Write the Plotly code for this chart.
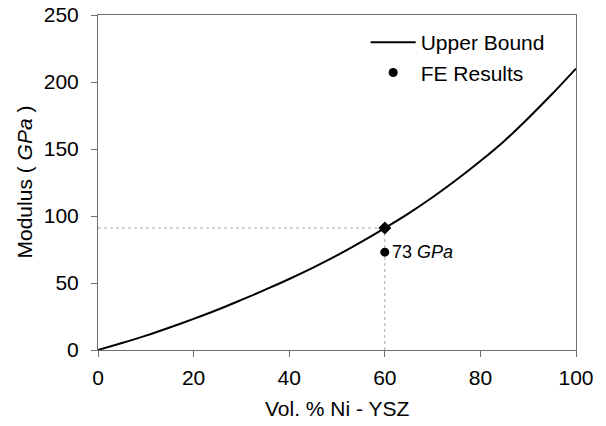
import plotly.graph_objects as go

vol_pct = [0, 5, 10, 15, 20, 25, 30, 35, 40, 45, 50, 55, 60, 65, 70, 75, 80, 85, 90, 95, 100]
upper_bound = [0, 5.2, 10.7, 16.8, 23.2, 30.0, 37.4, 45.0, 53.0, 61.5, 70.6, 80.5, 91.0, 102.0, 114.0, 127.0, 141.0, 156.0, 173.0, 191.0, 210.0]

fe_x = [60]
fe_y = [73]
marker_x = [60]
marker_y = [91]

x_ticks = [0, 20, 40, 60, 80, 100]
y_ticks = [0, 50, 100, 150, 200, 250]

FONT = "Liberation Sans, Arial, sans-serif"
AXIS_COLOR = "#6e6e6e"
GUIDE_COLOR = "#a8a8a8"

fig = go.Figure()

# dotted guide lines
fig.add_trace(go.Scatter(x=[0, marker_x[0]], y=[marker_y[0], marker_y[0]], mode="lines",
                         line=dict(color=GUIDE_COLOR, width=1, dash="dot"),
                         showlegend=False, hoverinfo="skip"))
fig.add_trace(go.Scatter(x=[marker_x[0], marker_x[0]], y=[0, marker_y[0]], mode="lines",
                         line=dict(color=GUIDE_COLOR, width=1, dash="dot"),
                         showlegend=False, hoverinfo="skip"))

fig.add_trace(go.Scatter(x=vol_pct, y=upper_bound, mode="lines", name="Upper Bound",
                         line=dict(color="black", width=2, shape="spline", smoothing=0.8)))
fig.add_trace(go.Scatter(x=marker_x, y=marker_y, mode="markers", showlegend=False,
                         marker=dict(symbol="diamond", color="black", size=10)))
fig.add_trace(go.Scatter(x=fe_x, y=fe_y, mode="markers", name="FE Results",
                         marker=dict(symbol="circle", color="black", size=9)))

fig.add_annotation(x=fe_x[0], y=fe_y[0], text="73 <i>GPa</i>", showarrow=False,
                   xanchor="left", xshift=5, font=dict(family=FONT, size=18, color="black"))

# axis titles
fig.add_annotation(xref="paper", yref="paper", x=0.5, y=0, yshift=-58, yanchor="middle",
                   text="Vol. % Ni - YSZ", showarrow=False,
                   font=dict(family=FONT, size=21, color="black"))
fig.add_annotation(xref="paper", yref="paper", x=0, y=0.5, xshift=-74, xanchor="center",
                   yanchor="middle", textangle=-90, text="Modulus ( <i>GPa</i> )", showarrow=False,
                   font=dict(family=FONT, size=21, color="black"))

axis_common = dict(showgrid=False, zeroline=False, showline=True, linecolor=AXIS_COLOR,
                   linewidth=1, mirror=True, ticks="outside", tickcolor=AXIS_COLOR,
                   ticklen=6, automargin=False, ticklabeloverflow="allow",
                   tickfont=dict(family=FONT, size=21, color="black"))

fig.update_xaxes(range=[0, 100], tickvals=x_ticks, ticklabelstandoff=3, **axis_common)
fig.update_yaxes(range=[0, 250], tickvals=y_ticks, ticklabelstandoff=8, **axis_common)

fig.update_layout(
    width=606, height=426,
    margin=dict(l=98, r=30, t=15, b=76),
    paper_bgcolor="white", plot_bgcolor="white",
    font=dict(family=FONT, size=21, color="black"),
    legend=dict(x=0.56, y=0.979, xanchor="left", yanchor="top", bgcolor="rgba(0,0,0,0)",
                font=dict(family=FONT, size=21, color="black"), tracegroupgap=0,
                itemwidth=45),
)

# remove the browser's default body margin so the figure fills the window exactly
fig.write_html("out.html", config={"displayModeBar": False},
               post_script="document.body.style.margin='0px';")
